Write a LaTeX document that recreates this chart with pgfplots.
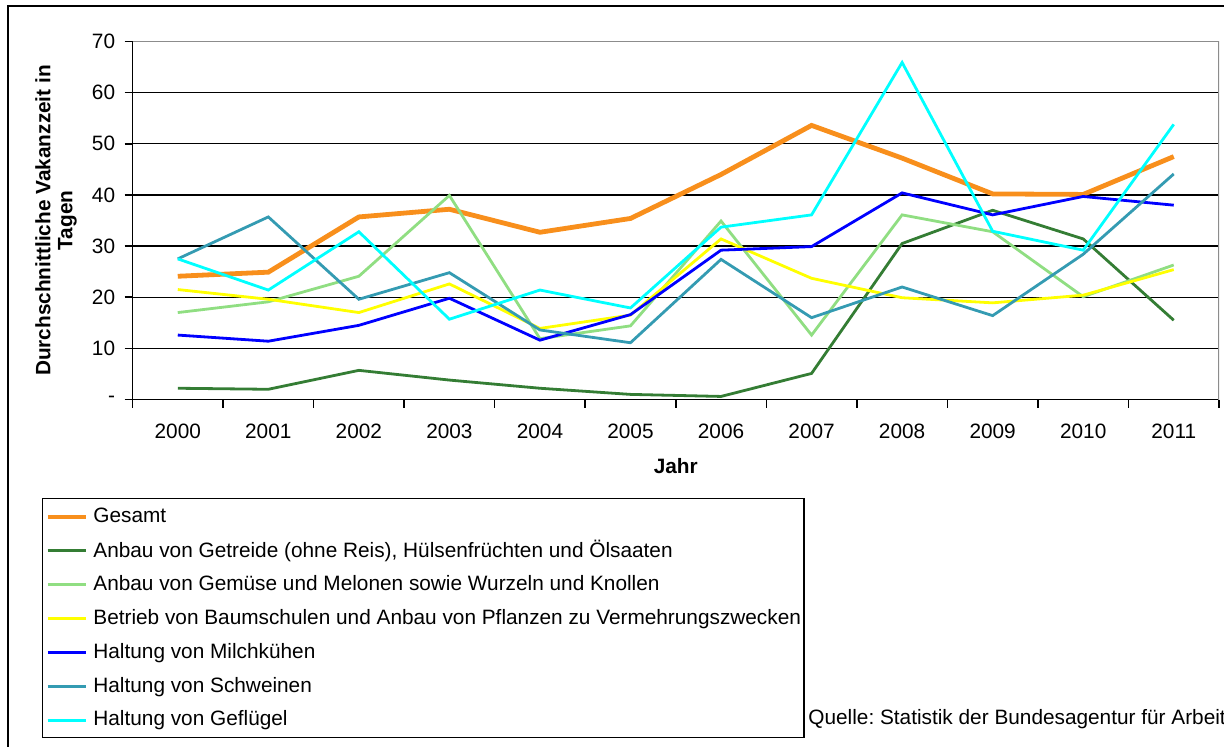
\documentclass[border=0pt]{standalone}
\usepackage{fontspec}
\setmainfont{Liberation Sans}
\usepackage{pgfplots}
\pgfplotsset{compat=1.18}
\frenchspacing
\newcommand\cf{\fontsize{10.4}{11}\selectfont}
\definecolor{cOrange}{RGB}{248,143,28}
\definecolor{cDGreen}{RGB}{52,125,52}
\definecolor{cLGreen}{RGB}{144,222,130}
\definecolor{cYellow}{RGB}{255,255,0}
\definecolor{cBlue}{RGB}{0,0,255}
\definecolor{cTeal}{RGB}{52,155,178}
\definecolor{cCyan}{RGB}{0,255,255}
\definecolor{cGray}{RGB}{140,140,140}
\begin{document}
\begin{tikzpicture}
\path[use as bounding box] (0,0) rectangle (612pt,373pt);
\draw[line width=1pt] (4pt,-2pt) -- (4pt,370pt) -- (614pt,370pt);
\begin{axis}[
  at={(66.25pt,173.25pt)}, anchor=south west,
  scale only axis, width=543.25pt, height=179pt,
  font=\cf,
  /pgf/number format/assume math mode=true,
  xmin=-0.5, xmax=11.5, ymin=0, ymax=70,
  axis x line*=bottom, axis y line*=left,
  axis line style={line width=0.75pt, black, -},
  xtick={0,...,11},
  xticklabels={2000,2001,2002,2003,2004,2005,2006,2007,2008,2009,2010,2011},
  minor xtick={-0.5,0.5,1.5,2.5,3.5,4.5,5.5,6.5,7.5,8.5,9.5,10.5,11.5},
  ytick={0,10,...,70},
  yticklabels={-,10,20,30,40,50,60,70},
  tick align=outside,
  major tick length=4pt, minor tick length=4pt,
  x tick style={draw=none},
  minor x tick style={draw=black, line width=0.75pt},
  y tick style={black, line width=0.75pt},
  ymajorgrids, grid style={black, line width=0.7pt},
  yticklabel style={inner sep=0pt, xshift=-4.5pt},
  xticklabel style={inner sep=0pt, yshift=-8pt},
  xlabel={Jahr}, xlabel style={font=\cf\bfseries, at={(axis description cs:0.5,-0.1858)}, anchor=center},
  ylabel={Durchschnittliche Vakanzzeit in\\Tagen},
  ylabel style={font=\cf\bfseries, align=center, at={(axis description cs:-0.0704,0.5)}, anchor=center},
  legend cell align=left,
  legend image code/.code={\draw[#1] (0pt,-0.2pt) -- (19pt,-0.2pt);},
  legend style={at={(axis description cs:-0.0833,-0.2751)}, anchor=north west,
    draw=black, line width=0.6pt, inner xsep=1.5pt, inner ysep=0.5pt,
    row sep=0pt, column sep=2.5pt, font=\cf,
    nodes={inner sep=0pt, minimum height=16.95pt}},
]
\addplot[cOrange, line width=2.4pt] coordinates {(0,24.1)(1,24.9)(2,35.7)(3,37.2)(4,32.7)(5,35.4)(6,44.0)(7,53.6)(8,47.2)(9,40.2)(10,40.1)(11,47.5)};
\addlegendentry{Gesamt}
\addplot[cDGreen, line width=1.4pt] coordinates {(0,2.2)(1,2.0)(2,5.7)(3,3.8)(4,2.2)(5,1.0)(6,0.6)(7,5.1)(8,30.5)(9,37.0)(10,31.4)(11,15.5)};
\addlegendentry{Anbau von Getreide (ohne Reis), Hülsenfrüchten und Ölsaaten}
\addplot[cLGreen, line width=1.4pt] coordinates {(0,17.0)(1,19.1)(2,24.1)(3,39.9)(4,11.9)(5,14.4)(6,34.9)(7,12.6)(8,36.1)(9,32.8)(10,20.1)(11,26.3)};
\addlegendentry{Anbau von Gemüse und Melonen sowie Wurzeln und Knollen}
\addplot[cYellow, line width=1.4pt] coordinates {(0,21.5)(1,19.6)(2,17.0)(3,22.6)(4,13.9)(5,16.5)(6,31.4)(7,23.7)(8,19.9)(9,18.9)(10,20.4)(11,25.4)};
\addlegendentry{Betrieb von Baumschulen und Anbau von Pflanzen zu Vermehrungszwecken}
\addplot[cBlue, line width=1.4pt] coordinates {(0,12.6)(1,11.4)(2,14.5)(3,19.8)(4,11.6)(5,16.6)(6,29.2)(7,29.9)(8,40.4)(9,36.1)(10,39.7)(11,38.0)};
\addlegendentry{Haltung von Milchkühen}
\addplot[cTeal, line width=1.4pt] coordinates {(0,27.5)(1,35.7)(2,19.6)(3,24.8)(4,13.6)(5,11.1)(6,27.4)(7,16.0)(8,22.0)(9,16.4)(10,28.4)(11,44.1)};
\addlegendentry{Haltung von Schweinen}
\addplot[cCyan, line width=1.4pt] coordinates {(0,27.5)(1,21.4)(2,32.8)(3,15.7)(4,21.4)(5,17.9)(6,33.7)(7,36.1)(8,65.9)(9,32.9)(10,29.2)(11,53.8)};
\addlegendentry{Haltung von Geflügel}
\draw[cGray, line width=0.75pt] (rel axis cs:0,1) -- (rel axis cs:1,1) -- (rel axis cs:1,0);
\end{axis}
\node[font=\cf, anchor=west, inner sep=0pt] at (404pt,13.5pt) {Quelle: Statistik der Bundesagentur für Arbeit};
\end{tikzpicture}
\end{document}
